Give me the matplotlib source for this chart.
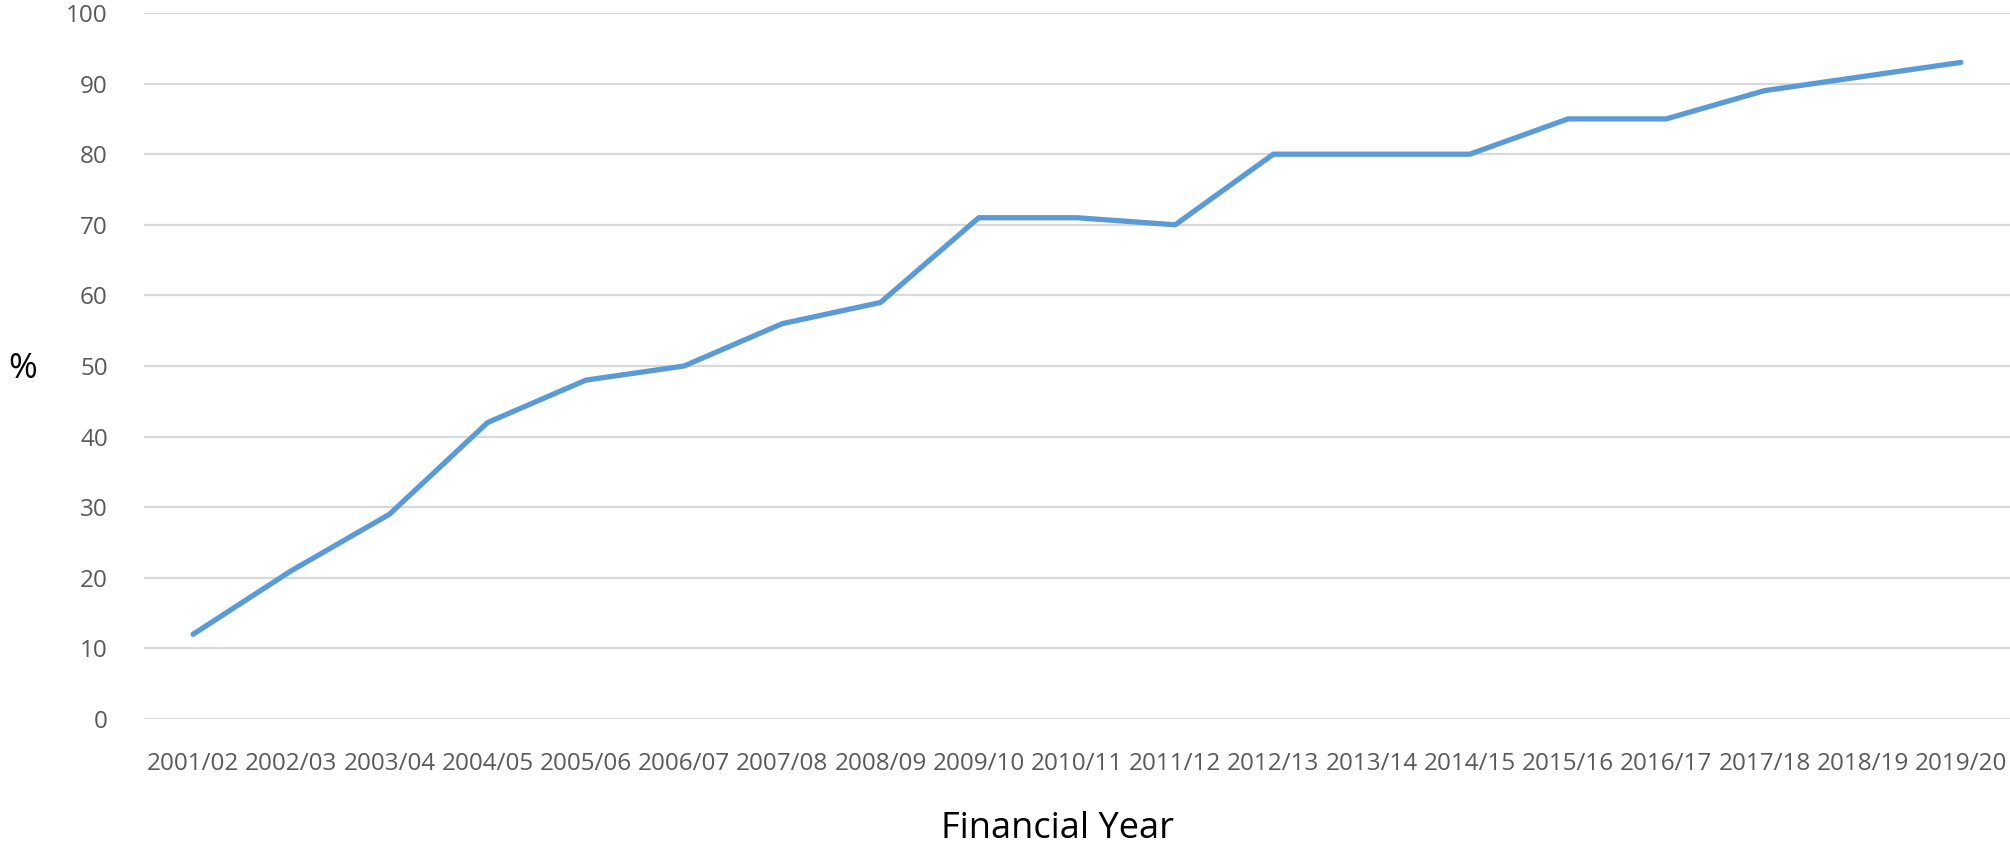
import matplotlib
matplotlib.use("Agg")
import matplotlib.pyplot as plt

years = ["2001/02", "2002/03", "2003/04", "2004/05", "2005/06", "2006/07",
         "2007/08", "2008/09", "2009/10", "2010/11", "2011/12", "2012/13",
         "2013/14", "2014/15", "2015/16", "2016/17", "2017/18", "2018/19",
         "2019/20"]
pct = [12, 21, 29, 42, 48, 50, 56, 59, 71, 71, 70, 80, 80, 80, 85, 85, 89, 91, 93]
yticks = [0, 10, 20, 30, 40, 50, 60, 70, 80, 90, 100]

plt.rcParams['font.family'] = ['Open Sans', 'DejaVu Sans']

fig = plt.figure(figsize=(20.1, 8.49), dpi=100)
ax = fig.add_axes([0.0716, 0.1531, 0.9284, 0.8316])

x = list(range(len(years)))
ax.plot(x, pct, color='#5b9bd5', linewidth=3.8, solid_capstyle='round',
        solid_joinstyle='round', zorder=3)

ax.set_xlim(-0.5, len(years) - 0.5)
ax.set_ylim(0, 100)
ax.set_yticks(yticks)
ax.set_xticks(x)
ax.set_xticklabels(years)
ax.grid(axis='y', color='#d9d9d9', linewidth=1.6)
ax.set_axisbelow(True)
for s in ax.spines.values():
    s.set_visible(False)
ax.tick_params(length=0, colors='#595959', labelsize=17.5)
ax.tick_params(axis='x', pad=24)
ax.tick_params(axis='y', pad=26)

fig.text(0.0115, 0.565, '%', fontsize=25, color='black', ha='center', va='center')
fig.text(0.526, 0.013, 'Financial Year', fontsize=26, color='black', ha='center', va='baseline')

fig.savefig('out.png', dpi=100)
